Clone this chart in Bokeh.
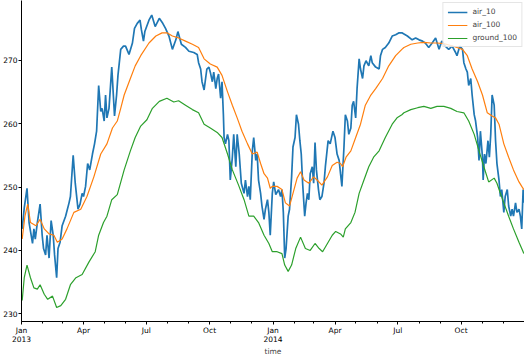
import pandas as pd
from bokeh.plotting import figure
from bokeh.models import ColumnDataSource, Range1d, FixedTicker, LinearAxis
from bokeh.embed import file_html
from bokeh.resources import INLINE

# ---------------- data ----------------
air10_dates = [
    "2013-01-02","2013-01-05","2013-01-09","2013-01-12","2013-01-17","2013-01-19","2013-01-21","2013-01-24","2013-01-28","2013-01-31",
    "2013-02-02","2013-02-05","2013-02-07","2013-02-10","2013-02-13","2013-02-16","2013-02-18","2013-02-21","2013-02-23","2013-02-26",
    "2013-03-01","2013-03-06","2013-03-11","2013-03-13","2013-03-17","2013-03-20","2013-03-24","2013-03-27","2013-03-30","2013-04-01",
    "2013-04-04","2013-04-07","2013-04-10","2013-04-14","2013-04-17","2013-04-20","2013-04-23","2013-04-26","2013-04-28","2013-05-01",
    "2013-05-03","2013-05-05","2013-05-08","2013-05-12","2013-05-16","2013-05-19","2013-05-21","2013-05-25","2013-05-29","2013-06-01",
    "2013-06-06","2013-06-11","2013-06-14","2013-06-18","2013-06-22","2013-06-24","2013-06-27","2013-06-29",
    "2013-07-05","2013-07-09","2013-07-14","2013-07-20","2013-07-25","2013-07-29",
    "2013-08-03","2013-08-08","2013-08-13","2013-08-16","2013-08-21","2013-08-27",
    "2013-09-01","2013-09-08","2013-09-13","2013-09-15","2013-09-18","2013-09-20","2013-09-23","2013-09-27","2013-09-30",
    "2013-10-02","2013-10-05","2013-10-07","2013-10-10","2013-10-12","2013-10-14","2013-10-17","2013-10-19","2013-10-21","2013-10-22",
    "2013-10-24","2013-10-27","2013-10-29","2013-10-31",
    "2013-11-03","2013-11-05","2013-11-08","2013-11-10","2013-11-13","2013-11-16","2013-11-20","2013-11-22","2013-11-25","2013-11-27","2013-11-29",
    "2013-12-02","2013-12-04","2013-12-07","2013-12-09","2013-12-11","2013-12-14","2013-12-16","2013-12-19","2013-12-21","2013-12-24",
    "2013-12-26","2013-12-28","2013-12-31",
    "2014-01-02","2014-01-05","2014-01-09","2014-01-12","2014-01-14","2014-01-16","2014-01-18","2014-01-20","2014-01-23","2014-01-25","2014-01-28","2014-01-30",
    "2014-02-02","2014-02-04","2014-02-07","2014-02-09","2014-02-11","2014-02-13","2014-02-16","2014-02-18","2014-02-20","2014-02-22","2014-02-24","2014-02-27",
    "2014-03-01","2014-03-03","2014-03-05","2014-03-08","2014-03-10","2014-03-13","2014-03-16","2014-03-18","2014-03-22","2014-03-25","2014-03-29",
    "2014-04-01","2014-04-04","2014-04-07","2014-04-09","2014-04-11","2014-04-14","2014-04-16","2014-04-19","2014-04-21","2014-04-24","2014-04-26","2014-04-28",
    "2014-05-01","2014-05-03","2014-05-06","2014-05-08","2014-05-11","2014-05-13","2014-05-16","2014-05-20","2014-05-23","2014-05-25","2014-05-30",
    "2014-06-04","2014-06-06","2014-06-09","2014-06-13","2014-06-18","2014-06-23","2014-06-28","2014-07-03",
    "2014-07-07","2014-07-15","2014-07-22","2014-07-27",
    "2014-08-01","2014-08-06","2014-08-10","2014-08-15","2014-08-20","2014-08-25","2014-08-30",
    "2014-09-03","2014-09-08","2014-09-13","2014-09-18","2014-09-23","2014-09-25","2014-09-29",
    "2014-10-03","2014-10-05","2014-10-08","2014-10-10","2014-10-12","2014-10-15","2014-10-17","2014-10-20","2014-10-22","2014-10-25","2014-10-27","2014-10-29",
    "2014-11-01","2014-11-02","2014-11-04","2014-11-06","2014-11-09","2014-11-11","2014-11-13","2014-11-15","2014-11-18","2014-11-20","2014-11-22","2014-11-25","2014-11-27","2014-11-29",
    "2014-12-02","2014-12-04","2014-12-07","2014-12-09","2014-12-12","2014-12-14","2014-12-16","2014-12-19","2014-12-21","2014-12-24","2014-12-26","2014-12-28","2014-12-30","2014-12-31",
]
air10_values = [
    243.4, 246.7, 249.8, 244.4, 241.1, 243.4, 241.8, 244.4, 247.3, 242.4,
    240.3, 239.3, 242.4, 238.8, 244.7, 242.4, 239.3, 235.7, 240.3, 241.3,
    243.9, 245.4, 247.5, 248.5, 255.0, 250.6, 246.5, 247.3, 249.0, 248.5,
    250.1, 253.7, 252.7, 255.2, 256.8, 258.8, 266.0, 261.9, 262.4, 260.4,
    264.5, 260.9, 262.4, 268.9, 261.2, 264.5, 267.6, 271.7, 272.2, 272.2,
    270.9, 272.7, 275.0, 275.8, 276.3, 274.8, 273.0, 274.5,
    276.3, 277.1, 275.3, 276.6, 275.8, 275.0,
    273.8, 271.7, 273.2, 274.5, 272.5, 272.0,
    271.4, 271.2, 270.9, 269.6, 268.6, 266.6, 265.3, 268.6, 268.9,
    268.1, 266.6, 268.1, 265.5, 267.1, 267.8, 264.0, 266.6, 261.4, 257.8,
    256.8, 258.3, 257.3, 251.1,
    254.7, 258.3, 253.2, 258.3, 255.2, 250.6, 249.0, 251.1, 248.5, 250.1, 248.0,
    255.7, 257.8, 254.2, 255.2, 251.1, 249.0, 247.0, 244.9, 246.5, 248.0,
    246.0, 242.4, 249.0,
    250.8, 248.8, 249.6, 248.5, 249.6, 246.0, 238.8, 240.3, 245.4, 246.5, 251.6, 256.3,
    257.8, 261.4, 259.9, 257.3, 255.2, 250.6, 245.4, 247.5, 249.0, 248.0, 252.1, 253.2,
    250.6, 257.0, 252.7, 249.6, 248.0, 248.5, 250.6, 253.2, 257.3, 256.8, 258.8,
    257.8, 255.2, 254.2, 252.1, 250.1, 256.3, 261.4, 260.4, 258.3, 259.3, 262.9, 263.5,
    260.9, 265.5, 270.2, 268.6, 267.1, 269.1, 269.9, 269.1, 270.7, 269.6, 268.9,
    268.6, 270.7, 271.7, 272.0, 272.7, 273.8, 274.0, 274.3,
    274.3, 273.8, 273.2, 273.5,
    273.2, 273.0, 272.7, 272.0, 272.7, 273.5, 271.7,
    273.0, 272.2, 271.7, 272.2, 271.2, 270.7, 272.2,
    271.7, 269.6, 268.6, 268.1, 266.0, 267.1, 264.5, 261.4, 260.4, 257.8, 254.2, 258.8,
    254.7, 251.1, 255.2, 253.7, 257.3, 254.7, 258.3, 264.5, 262.9, 257.3, 253.7, 251.1, 248.5, 249.6,
    246.0, 248.5, 249.6, 247.0, 245.4, 246.5, 245.4, 247.5, 246.0, 246.5, 245.4, 243.4, 249.6, 247.5,
]

air100_dates = [
    "2013-01-02","2013-01-06","2013-01-10","2013-01-14","2013-01-22","2013-01-28","2013-02-03","2013-02-10","2013-02-17","2013-02-22",
    "2013-03-01","2013-03-08","2013-03-18","2013-03-28","2013-04-06","2013-04-16","2013-04-26","2013-05-05","2013-05-13","2013-05-20",
    "2013-05-25","2013-05-30","2013-06-08","2013-06-15","2013-06-23","2013-07-05","2013-07-15","2013-07-24","2013-07-31","2013-08-08",
    "2013-08-17","2013-08-27","2013-09-06","2013-09-15","2013-09-23","2013-10-02","2013-10-12","2013-10-19","2013-10-27","2013-11-03",
    "2013-11-10","2013-11-17","2013-11-25","2013-12-02","2013-12-09","2013-12-14","2013-12-19","2013-12-24","2013-12-28","2013-12-31",
    "2014-01-07","2014-01-14","2014-01-19","2014-01-25","2014-01-30","2014-02-05","2014-02-10","2014-02-15","2014-02-22","2014-03-01",
    "2014-03-06","2014-03-13","2014-03-21","2014-03-28","2014-04-04","2014-04-09","2014-04-12","2014-04-17","2014-04-24","2014-05-01",
    "2014-05-08","2014-05-15","2014-05-23","2014-05-30","2014-06-09","2014-06-18","2014-06-28","2014-07-07","2014-07-10","2014-07-20",
    "2014-07-30","2014-08-08","2014-08-18","2014-08-27","2014-09-06","2014-09-16","2014-09-25","2014-10-03","2014-10-10","2014-10-17",
    "2014-10-25","2014-11-01","2014-11-08","2014-11-15","2014-11-20","2014-11-25","2014-12-02","2014-12-09","2014-12-16","2014-12-24",
    "2014-12-28","2014-12-31",
]
air100_values = [
    241.8, 245.4, 247.3, 244.4, 243.9, 244.9, 243.4, 242.6, 242.4, 241.3,
    241.8, 243.4, 246.0, 246.5, 248.5, 251.6, 255.2, 256.8, 259.3, 260.4,
    262.4, 264.5, 267.1, 269.1, 270.7, 272.7, 273.8, 274.3, 274.3, 273.8,
    273.5, 273.0, 272.5, 272.0, 270.2, 269.4, 268.9, 267.6, 265.0, 262.9,
    260.9, 258.8, 256.8, 255.2, 255.5, 253.7, 252.1, 251.4, 249.8, 250.1,
    250.1, 249.6, 247.5, 247.0, 249.0, 251.4, 252.4, 251.1, 250.6, 251.6,
    251.1, 250.3, 251.6, 253.4, 253.9, 253.7, 253.2, 254.7, 255.7, 257.8,
    259.9, 262.9, 264.5, 265.5, 267.1, 269.1, 270.7, 271.7, 272.0, 272.5,
    272.7, 272.8, 272.7, 272.7, 272.6, 272.3, 272.0, 271.7, 270.7, 268.6,
    266.6, 264.5, 261.7, 261.2, 260.9, 259.9, 256.8, 254.7, 252.7, 250.8,
    250.1, 249.6,
]

ground100_dates = [
    "2013-01-02","2013-01-05","2013-01-09","2013-01-14","2013-01-19","2013-01-24","2013-01-28","2013-02-03","2013-02-08","2013-02-15",
    "2013-02-21","2013-02-27","2013-03-06","2013-03-13","2013-03-21","2013-03-30","2013-04-09","2013-04-18","2013-04-23","2013-04-30",
    "2013-05-05","2013-05-12","2013-05-20","2013-05-30","2013-06-08","2013-06-15","2013-06-23","2013-07-02","2013-07-10","2013-07-20",
    "2013-07-31","2013-08-10","2013-08-17","2013-08-27","2013-09-06","2013-09-15","2013-09-23","2013-10-02","2013-10-12","2013-10-19",
    "2013-10-27","2013-11-03","2013-11-12","2013-11-20","2013-11-27","2013-12-04","2013-12-11","2013-12-19","2013-12-26","2013-12-31",
    "2014-01-07","2014-01-14","2014-01-18","2014-01-23","2014-01-28","2014-02-03","2014-02-10","2014-02-17","2014-02-24","2014-03-03",
    "2014-03-09","2014-03-14","2014-03-21","2014-03-28","2014-04-02","2014-04-09","2014-04-13","2014-04-16","2014-04-24","2014-04-30",
    "2014-05-06","2014-05-13","2014-05-20","2014-05-27","2014-06-04","2014-06-13","2014-06-23","2014-06-30","2014-07-07","2014-07-10",
    "2014-07-20","2014-07-30","2014-08-08","2014-08-18","2014-08-27","2014-09-06","2014-09-16","2014-09-25","2014-10-05","2014-10-12",
    "2014-10-20","2014-10-27","2014-11-03","2014-11-10","2014-11-18","2014-11-22","2014-11-27","2014-12-02","2014-12-09","2014-12-16",
    "2014-12-24","2014-12-30","2014-12-31",
]
ground100_values = [
    232.1, 235.7, 237.7, 235.7, 234.1, 233.9, 234.6, 233.1, 232.3, 232.8,
    231.0, 231.3, 232.3, 234.6, 235.7, 236.2, 238.2, 239.8, 242.4, 244.4,
    245.4, 248.0, 248.8, 252.7, 255.7, 257.8, 259.6, 260.6, 262.4, 263.5,
    264.0, 263.4, 263.6, 262.9, 262.2, 261.7, 259.9, 259.3, 258.6, 257.8,
    255.2, 252.7, 250.3, 248.0, 245.4, 245.4, 244.4, 242.4, 241.1, 239.8,
    239.8, 239.5, 237.7, 236.7, 237.7, 240.3, 242.1, 240.3, 240.0, 241.1,
    240.3, 239.8, 241.1, 242.4, 243.0, 242.6, 242.1, 243.4, 244.4, 246.0,
    249.0, 251.1, 253.2, 254.7, 255.7, 257.8, 259.9, 260.9, 261.4, 261.7,
    262.2, 262.5, 262.7, 262.4, 262.7, 262.7, 262.4, 261.9, 261.7, 260.4,
    258.3, 255.7, 253.2, 250.8, 251.4, 250.6, 249.0, 247.5, 245.4, 243.4,
    241.3, 239.8, 239.5,
]

series_names = ["air_10", "air_100", "ground_100"]
series_colors = ["#1f77b4", "#ff7f0e", "#2ca02c"]
series_widths = [1.7, 1.2, 1.2]

xtick_dates = ["2013-01-01", "2013-04-01", "2013-07-01", "2013-10-01",
               "2014-01-01", "2014-04-01", "2014-07-01", "2014-10-01"]
xtick_labels = ["Jan\n2013", "Apr", "Jul", "Oct", "Jan\n2014", "Apr", "Jul", "Oct"]
ytick_values = [230, 240, 250, 260, 270]

# ---------------- plot ----------------
def to_ms(s):
    return pd.Timestamp(s).value / 1e6

FONT = "DejaVu Sans"
FS = "7.5px"

p = figure(width=524, height=358, x_axis_type="datetime",
           output_backend="svg", toolbar_location=None,
           x_range=Range1d(pd.Timestamp("2013-01-01"), pd.Timestamp("2015-01-01")),
           y_range=Range1d(228.8, 279.4),
           min_border_left=0, min_border_right=0, min_border_top=0, min_border_bottom=0)

series = [(air10_dates, air10_values), (air100_dates, air100_values),
          (ground100_dates, ground100_values)]
for (d, v), name, col, w in zip(series, series_names, series_colors, series_widths):
    src = ColumnDataSource(dict(x=pd.to_datetime(d), y=v))
    p.line("x", "y", source=src, color=col, line_width=w, legend_label=name)

minor = [to_ms(t) for t in pd.date_range("2013-01-01", "2015-01-01", freq="MS")]
p.xaxis.ticker = FixedTicker(ticks=[to_ms(t) for t in xtick_dates], minor_ticks=minor)
p.xaxis.major_label_overrides = {to_ms(t): lab for t, lab in zip(xtick_dates, xtick_labels)}
p.yaxis.ticker = FixedTicker(ticks=ytick_values, minor_ticks=[])

p.xaxis.axis_label = "time"
p.xaxis.axis_label_text_font_style = "normal"
p.xaxis.axis_label_text_font = FONT
p.xaxis.axis_label_text_font_size = FS
p.xaxis.axis_label_standoff = 0
p.xaxis.axis_label_text_line_height = 1.0
p.xaxis.major_label_text_line_height = 1.0

for ax in (p.xaxis, p.yaxis):
    ax.major_label_text_font = FONT
    ax.major_label_text_font_size = FS
    ax.major_label_text_color = "black"
    ax.axis_line_color = "black"
    ax.major_tick_line_color = "black"
    ax.minor_tick_line_color = "black"
    ax.major_tick_in = 0
    ax.major_tick_out = 3
    ax.minor_tick_in = 0
    ax.minor_tick_out = 2
    ax.major_label_standoff = 1

right = LinearAxis(ticker=FixedTicker(ticks=[]), major_label_text_font_size="0px",
                   major_tick_line_color=None, minor_tick_line_color=None,
                   axis_line_color="black", major_label_standoff=0)
p.add_layout(right, "right")

p.xgrid.visible = False
p.ygrid.visible = False
p.outline_line_color = None

p.legend.location = "top_right"
p.legend.label_text_font = FONT
p.legend.label_text_font_size = FS
p.legend.label_height = 8
p.legend.glyph_height = 8
p.legend.glyph_width = 20
p.legend.spacing = 4
p.legend.padding = 4
p.legend.margin = 2
p.legend.border_line_color = "#cccccc"
p.legend.background_fill_alpha = 0.8

open("out.html", "w").write(file_html(p, INLINE))
